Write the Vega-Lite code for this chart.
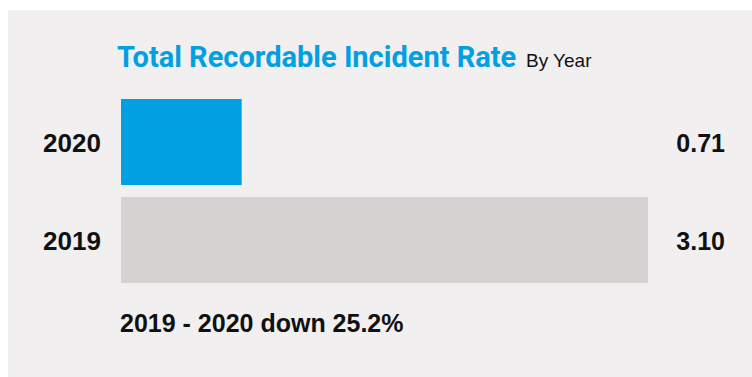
{
  "$schema": "https://vega.github.io/schema/vega-lite/v6.json",
  "width": 752,
  "height": 377,
  "autosize": {"type": "fit", "contains": "padding"},
  "padding": {"left": 8, "top": 10, "right": 0, "bottom": 0},
  "background": "#ffffff",
  "view": {"fill": "#f1eff0", "stroke": null},
  "config": {"font": "Liberation Sans"},
  "data": {"values": [
    {"year": "2020", "rate": 0.71, "label": "0.71"},
    {"year": "2019", "rate": 3.10, "label": "3.10"}
  ]},
  "encoding": {
    "y": {"field": "year", "type": "nominal", "axis": null,
      "scale": {"domain": ["2020", "2019"], "paddingInner": 0.1224, "paddingOuter": 0.934, "align": 0.486}}
  },
  "layer": [
    {
      "mark": {"type": "bar"},
      "encoding": {
        "x": {"field": "rate", "type": "quantitative", "axis": null,
          "scale": {"domain": [0, 3.1], "range": [113, 640], "zero": false, "nice": false}},
        "x2": {"datum": 0},
        "color": {"field": "year", "type": "nominal", "legend": null,
          "scale": {"domain": ["2020", "2019"], "range": ["#00a0e3", "#d5d2d2"]}}
      }
    },
    {
      "mark": {"type": "text", "align": "left", "baseline": "alphabetic", "dx": -78, "dy": 10, "fontSize": 26, "fontWeight": "bold", "color": "#111111"},
      "encoding": {"x": {"datum": 0}, "text": {"field": "year"}}
    },
    {
      "mark": {"type": "text", "align": "right", "baseline": "alphabetic", "dx": 77, "dy": 10, "fontSize": 25, "fontWeight": "bold", "color": "#111111"},
      "encoding": {"x": {"datum": 3.1}, "text": {"field": "label"}}
    },
    {
      "data": {"values": [{"t": "Total Recordable Incident Rate", "row": "2020"}]},
      "mark": {"type": "text", "align": "left", "baseline": "alphabetic", "dx": -4, "dy": -75, "fontSize": 29, "fontWeight": "bold", "font": "Roboto", "color": "#00a0e3"},
      "encoding": {"x": {"datum": 0}, "y": {"field": "row", "type": "nominal"}, "text": {"field": "t"}}
    },
    {
      "data": {"values": [{"t": "By Year", "row": "2020"}]},
      "mark": {"type": "text", "align": "left", "baseline": "alphabetic", "dx": 405, "dy": -75, "fontSize": 19, "color": "#111111"},
      "encoding": {"x": {"datum": 0}, "y": {"field": "row", "type": "nominal"}, "text": {"field": "t"}}
    },
    {
      "data": {"values": [{"t": "2019 - 2020 down 25.2%", "row": "2019"}]},
      "mark": {"type": "text", "align": "left", "baseline": "alphabetic", "dx": -1, "dy": 92, "fontSize": 25, "fontWeight": "bold", "color": "#111111"},
      "encoding": {"x": {"datum": 0}, "y": {"field": "row", "type": "nominal"}, "text": {"field": "t"}}
    }
  ]
}
